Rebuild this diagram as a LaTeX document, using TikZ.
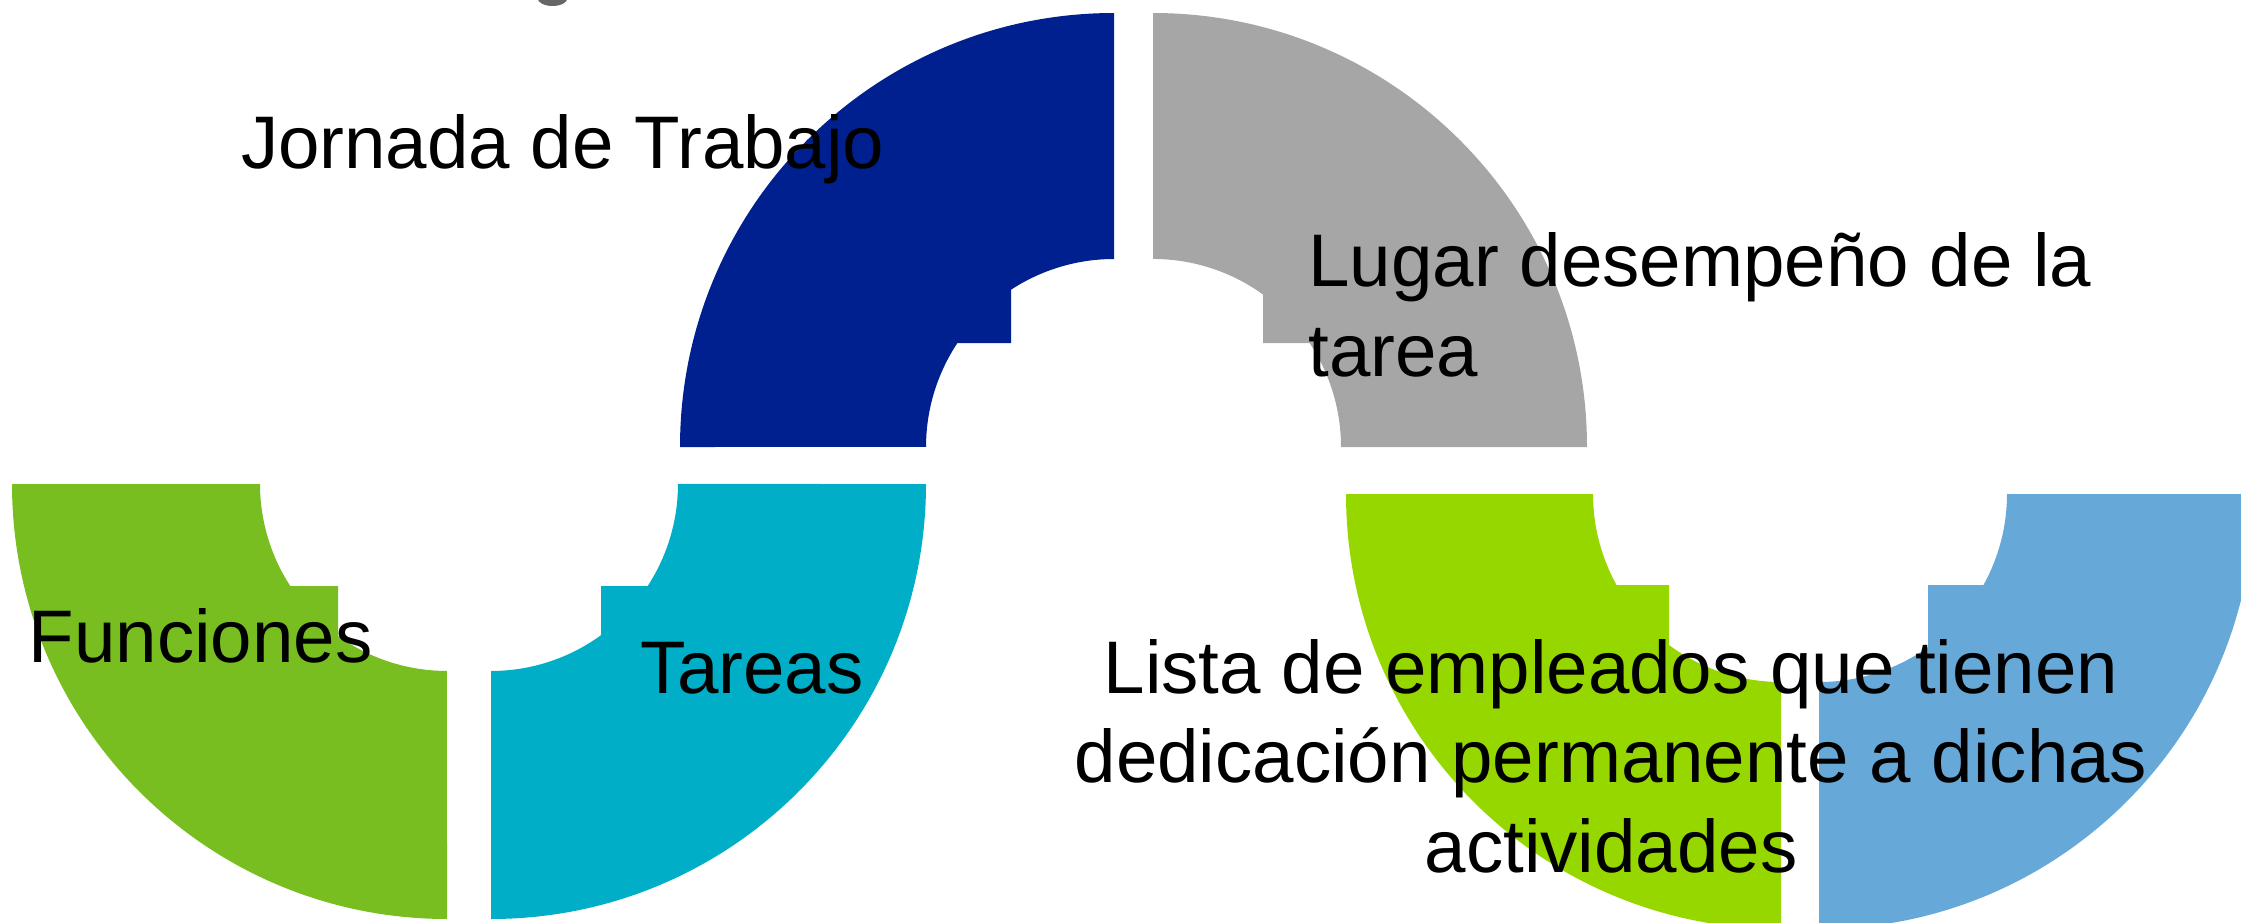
\documentclass[tikz,border=0pt]{standalone}
\usepackage{fontspec}
\setmainfont{Liberation Sans}
\definecolor{cNavy}{HTML}{002090}
\definecolor{cGrey}{HTML}{A6A6A6}
\definecolor{cGreen}{HTML}{78BE20}
\definecolor{cCyan}{HTML}{00AEC7}
\definecolor{cLime}{HTML}{97D700}
\definecolor{cSky}{HTML}{66A8D8}
\definecolor{cTitle}{HTML}{666666}
\begin{document}
\begin{tikzpicture}[x=1pt,y=-1pt,
  lbl/.style={inner sep=0pt,outer sep=0pt,text=black,font=\fontsize{74.5}{89.5}\selectfont}]
\useasboundingbox (0,0) rectangle (2241,923);
\clip (0,0) rectangle (2241,923);
% clipped glyph of a title above the picture
\fill[cTitle] (552.5,-2) ellipse[x radius=15, y radius=8];
% Jornada de Trabajo (navy)
\fill[cNavy] (680,447) arc[start angle=180,end angle=270,radius=434]
  -- (1114,259) arc[start angle=270,end angle=236.78,radius=188]
  -- (1011,343) -- (957.4,343) arc[start angle=213.58,end angle=180,radius=188] -- cycle;
% Lugar (grey)
\fill[cGrey] (1153,13) arc[start angle=270,end angle=360,radius=434]
  -- (1341,447) arc[start angle=360,end angle=326.42,radius=188]
  -- (1263,343) -- (1263,294.5) arc[start angle=305.81,end angle=270,radius=188] -- cycle;
% Funciones (green)
\fill[cGreen] (447,919) arc[start angle=90,end angle=180,radius=435]
  -- (260,484) arc[start angle=180,end angle=146.94,radius=187]
  -- (338,586) -- (338,635.9) arc[start angle=125.65,end angle=90,radius=187] -- cycle;
% Tareas (cyan)
\fill[cCyan] (926,484) arc[start angle=0,end angle=90,radius=435]
  -- (491,671) arc[start angle=90,end angle=53.97,radius=187]
  -- (601,586) -- (647.7,586) arc[start angle=33.06,end angle=0,radius=187] -- cycle;
% Lista (lime)
\fill[cLime] (1781,929) arc[start angle=90,end angle=180,radius=435]
  -- (1593,494) arc[start angle=180,end angle=151.05,radius=188]
  -- (1669,585) -- (1669,645) arc[start angle=126.56,end angle=90,radius=188] -- cycle;
% light blue
\fill[cSky] (2254,494) arc[start angle=0,end angle=90,radius=435]
  -- (1819,682) arc[start angle=90,end angle=54.56,radius=188]
  -- (1928,585) -- (1983.5,585) arc[start angle=28.95,end angle=0,radius=188] -- cycle;
% labels
\node[lbl,anchor=base west] (jor) at (241,168) {Jornada de Trabajo};
\node[lbl,anchor=base west,align=left] (lug) at (1308.5,376) {Lugar desempeño de la\\tarea};
\node[lbl,anchor=base west] (fun) at (28.7,662) {Funciones};
\node[lbl,anchor=base west] (tar) at (640,693) {Tareas};
\node[lbl,anchor=base,align=center] (lis) at (1611,872) {Lista de empleados que tienen\\dedicación permanente a dichas\\actividades};
\end{tikzpicture}
\end{document}
